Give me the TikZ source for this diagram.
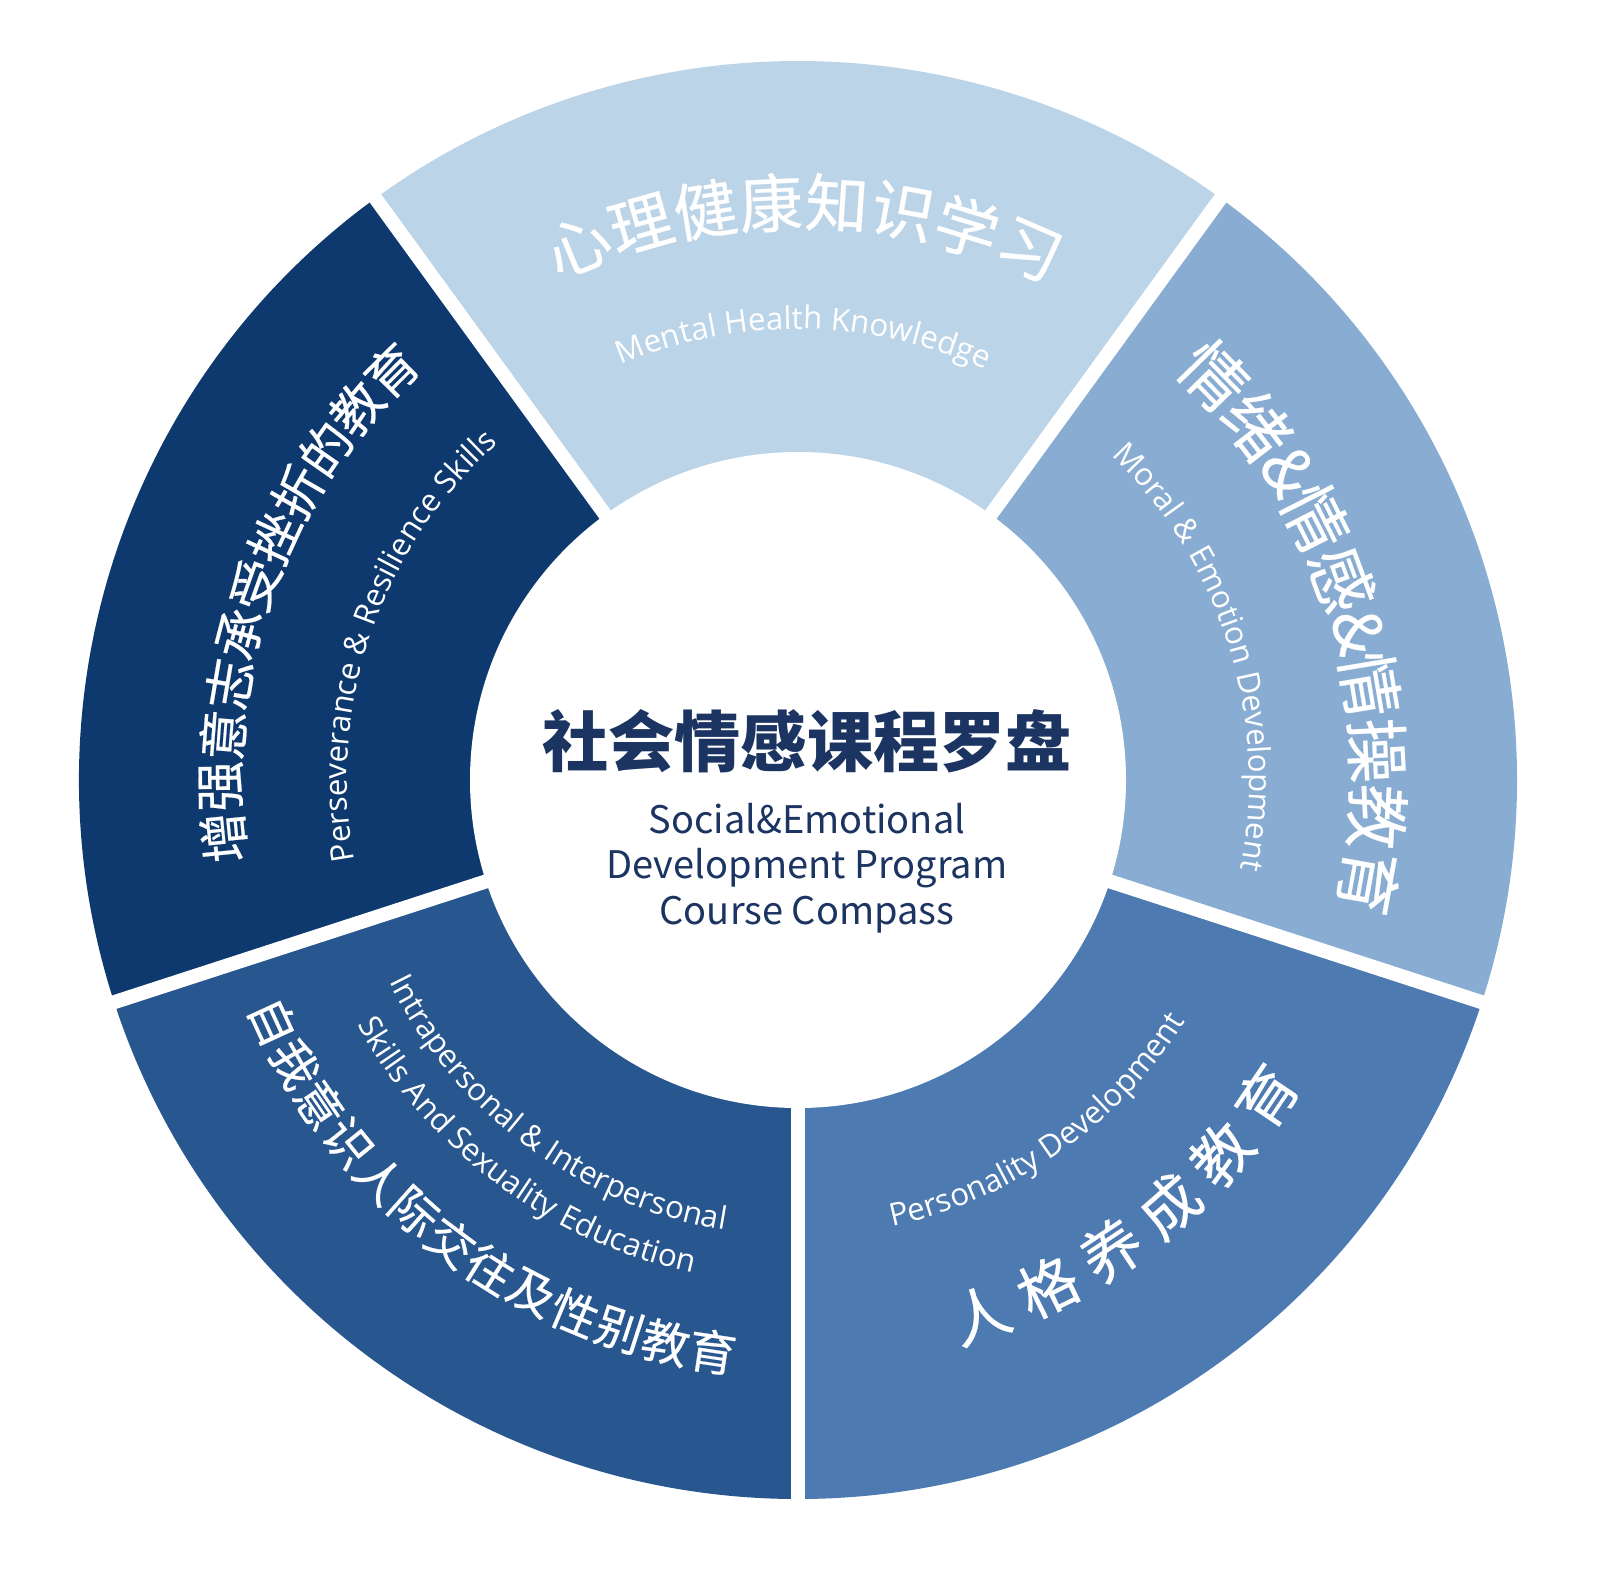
\documentclass[tikz,border=0pt]{standalone}
\usepackage{fontspec}
\usetikzlibrary{decorations.text}
\newfontfamily\cjk{Noto Sans CJK SC}
\newfontfamily\cjkseg{Noto Sans CJK SC}[FakeBold=0.4]
\newfontfamily\latin{Open Sans}
\definecolor{segtop}{RGB}{188,212,232}
\definecolor{segright}{RGB}{137,173,210}
\definecolor{seglowr}{RGB}{76,122,177}
\definecolor{seglowl}{RGB}{40,86,142}
\definecolor{segleft}{RGB}{14,57,110}
\definecolor{compassnavy}{RGB}{27,52,97}

\begin{document}
\begin{tikzpicture}[x=0.01cm,y=0.01cm,
    zh/.style={inner sep=0pt,text=white,font=\cjkseg\fontsize{#1}{#1}\selectfont},
    en/.style={decorate,decoration={text along path,text align=center,text color=white,
      text={|\latin\fontsize{8.9}{10}\selectfont|#1}}}]
  \useasboundingbox (-798,-788) rectangle (802,780);
  % ring
  \fill[segtop] (0,0) -- (54:719) arc[start angle=54,end angle=126,radius=719] -- cycle;
  \fill[segleft] (0,0) -- (126:719) arc[start angle=126,end angle=198,radius=719] -- cycle;
  \fill[seglowl] (0,0) -- (198:719) arc[start angle=198,end angle=270,radius=719] -- cycle;
  \fill[seglowr] (0,0) -- (270:719) arc[start angle=270,end angle=342,radius=719] -- cycle;
  \fill[segright] (0,0) -- (342:719) arc[start angle=342,end angle=414,radius=719] -- cycle;
  \foreach \a in {54,126,198,270,342} \draw[white,line width=4pt] (0,0) -- (\a:740);
  \fill[white] (0,0) circle[radius=328];

  \node[font=\cjk\bfseries\fontsize{18.8}{20}\selectfont,text=compassnavy] (title) at (9,39) {社会情感课程罗盘};
  \node[font=\cjk\fontsize{10.8}{12.9}\selectfont,text=compassnavy,align=center] (sub) at (9,-88)
    {Social\&Emotional\\Development Program\\Course Compass};

  % chinese labels, one glyph at a time
  \foreach \ch [count=\i] in {心,理,健,康,知,识,学,习} {
    \pgfmathsetmacro\ang{89.4-(\i-4.5)*6.56}
    \node[zh=18,rotate=\ang-90] (top\i) at (\ang:578) {\ch};}
  \foreach \ch/\pos [count=\i] in {情/0.5,绪/1.5,\&/2.33,情/3.15,感/4.15,\&/4.98,情/5.8,操/6.8,教/7.8,育/8.8} {
    \pgfmathsetmacro\ang{17-(\pos-4.65)*6.55}
    \node[zh=18.5,rotate=\ang-90] (right\i) at (\ang:580) {\ch};}
  \foreach \ch [count=\i] in {增,强,意,志,承,受,挫,折,的,教,育} {
    \pgfmathsetmacro\ang{160.25-(\i-6)*5.09}
    \node[zh=14.5,rotate=\ang-90] (left\i) at (\ang:577) {\ch};}
  \foreach \ch [count=\i] in {自,我,意,识,人,际,交,往,及,性,别,教,育} {
    \pgfmathsetmacro\ang{233.1+(\i-7)*4.73}
    \node[zh=13.5,rotate=\ang+90] (lowl\i) at (\ang:578) {\ch};}
  \foreach \ch [count=\i] in {人,格,养,成,教,育} {
    \pgfmathsetmacro\ang{307.4+(\i-3.5)*7.43}
    \node[zh=17,rotate=\ang+90] (lowr\i) at (\ang:565) {\ch};}

  % english labels (& read as a plain character here)
  \catcode`\&=12
  \path[en={Mental Health Knowledge}] (134.3:451) arc[start angle=134.3,end angle=44.3,radius=451];
  \path[en={Moral & Emotion Development}] (62.3:451) arc[start angle=62.3,end angle=-27.7,radius=451];
  \path[en={Perseverance & Resilience Skills}] (206:451) arc[start angle=206,end angle=116,radius=451];
  \path[en={Personality Development}] (260:456) arc[start angle=260,end angle=350,radius=456];
  \path[en={Intrapersonal & Interpersonal}] (188.5:456) arc[start angle=188.5,end angle=278.5,radius=456];
  \path[en={Skills And Sexuality Education}] (188.5:504) arc[start angle=188.5,end angle=278.5,radius=504];
\end{tikzpicture}
\end{document}
